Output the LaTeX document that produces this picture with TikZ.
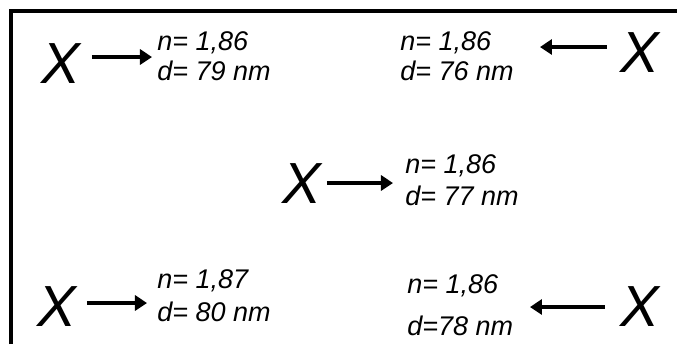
\documentclass[tikz,border=0pt]{standalone}
\usepackage{fontspec}
\setmainfont{Liberation Sans}
\usetikzlibrary{arrows.meta, positioning}

\tikzset{
  bigx/.style={font=\fontsize{29}{29}\selectfont\itshape, inner sep=0pt, anchor=base west},
  vals/.style={font=\fontsize{13.5}{13.5}\selectfont\itshape, inner sep=0pt, anchor=base west},
  arr/.style={line width=2pt, -{Triangle[length=6pt, width=7.5pt]}},
}

\begin{document}
\begin{tikzpicture}[x=0.5pt, y=-0.5pt]
  \useasboundingbox (0,0) rectangle (677,344);
  % frame, cut off at right and bottom
  \draw[line width=2pt] (11,344) -- (11,11) -- (677,11);

  % sample points
  \node[bigx] (x1) at (41,83) {X};
  \node[bigx] (x2) at (620,72) {X};
  \node[bigx] (x3) at (282,203) {X};
  \node[bigx] (x4) at (37,326) {X};
  \node[bigx] (x5) at (620,326) {X};

  % measured values
  \foreach \i/\px/\pn/\pd/\nv/\dv in {1/157/50/80/{1,86}/{= 79 nm},
                                      2/400/50/80/{1,86}/{= 76 nm},
                                      3/405/173/205/{1,86}/{= 77 nm},
                                      4/157/288/321/{1,87}/{= 80 nm},
                                      5/407/293/335/{1,86}/{=78 nm}} {
    \node[vals] (n\i) at (\px,\pn) {n= \nv};
    \node[vals] (d\i) at (\px,\pd) {d\dv};
  }

  % arrows from the X marks to their values
  \coordinate (s1) at (92,57);
  \coordinate (e1) at (152,57);
  \coordinate (s2) at (607,47);
  \coordinate (e2) at (540,47);
  \coordinate (s3) at (327,183);
  \coordinate (e3) at (393,183);
  \coordinate (s4) at (87,303);
  \coordinate (e4) at (147,303);
  \coordinate (s5) at (605,307);
  \coordinate (e5) at (530,307);
  \foreach \i in {1,...,5}
    \draw[arr] (s\i) -- (e\i);
\end{tikzpicture}
\end{document}
